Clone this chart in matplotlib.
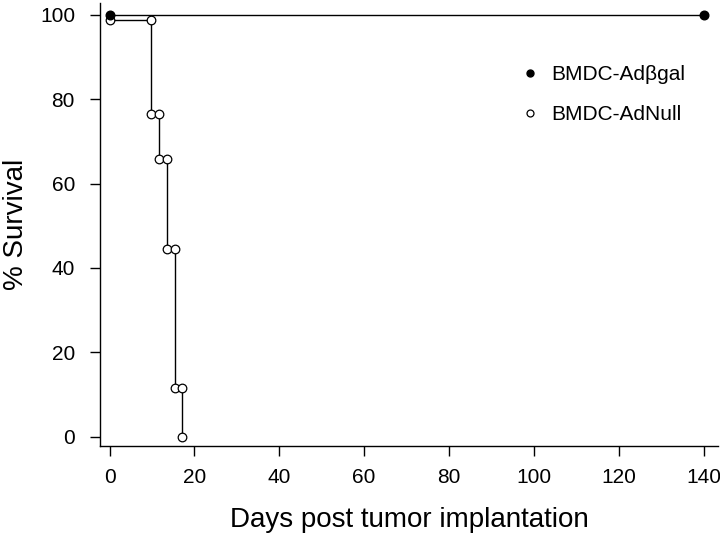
import matplotlib
matplotlib.use("Agg")
import matplotlib.pyplot as plt
from matplotlib.lines import Line2D

plt.rcParams['font.family'] = ['Liberation Sans', 'DejaVu Sans']

# Data
gal_days = [0, 140]
gal_surv = [100, 100]
null_days = [0, 9.8, 11.7, 13.6, 15.4, 17.2]
null_surv = [98.8, 76.5, 65.8, 44.6, 11.5, 0]
xticks = [0, 20, 40, 60, 80, 100, 120, 140]
yticks = [0, 20, 40, 60, 80, 100]
labels = ["BMDC-Ad\u03b2gal", "BMDC-AdNull"]

# step vertices
sx, sy = [null_days[0]], [null_surv[0]]
for i in range(1, len(null_days)):
    sx += [null_days[i], null_days[i]]
    sy += [null_surv[i - 1], null_surv[i]]

fig = plt.figure(figsize=(7.2, 5.37), dpi=100)
ax = fig.add_axes([100/720, 1 - 446/537, 618/720, 443/537])

ax.plot(sx, sy, color='black', lw=1.0, marker='o', ms=6.2,
        mfc='white', mec='black', mew=0.9, zorder=3)
ax.plot(gal_days, gal_surv, color='black', lw=1.0, marker='o', ms=6.2,
        mfc='black', mec='black', zorder=4)

ax.set_xlim(-2.24, 143.4)
ax.set_ylim(-2.2, 102.8)
ax.set_xticks(xticks)
ax.set_yticks(yticks)
for s in ['top', 'right']:
    ax.spines[s].set_visible(False)
for s in ['left', 'bottom']:
    ax.spines[s].set_linewidth(1.0)
ax.tick_params(axis='both', labelsize=15, length=7, width=1.0, direction='out')
ax.tick_params(axis='y', pad=11)
ax.tick_params(axis='x', pad=9)

ax.set_xlabel("Days post tumor implantation", fontsize=20, labelpad=14)
ax.set_ylabel("% Survival", fontsize=20, labelpad=8)

handles = [Line2D([], [], ls='none', marker='o', ms=5, mfc='black', mec='black'),
           Line2D([], [], ls='none', marker='o', ms=5, mfc='white', mec='black', mew=0.9)]
ax.legend(handles, labels, loc='upper left', bbox_to_anchor=(509/720, 1 - 55/537),
          bbox_transform=fig.transFigure, frameon=False, fontsize=15,
          handlelength=1.0, handletextpad=0.55, labelspacing=1.0, borderpad=0)

fig.savefig("out.png", dpi=100)
